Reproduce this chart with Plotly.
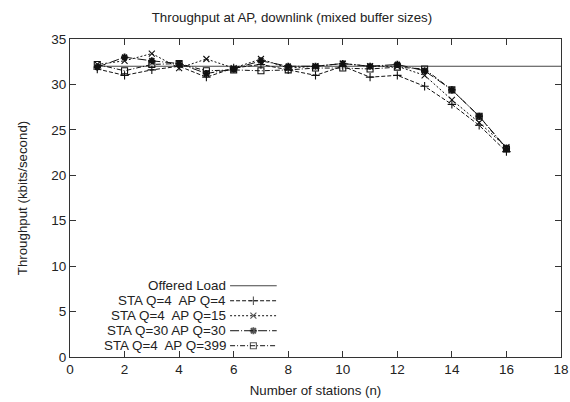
import plotly.graph_objects as go

stations = list(range(1, 17))
offered_x = [1, 18]
offered_y = [32, 32]
q4_ap4 = [31.7, 31.0, 31.6, 32.0, 30.8, 31.8, 32.2, 31.6, 31.0, 32.0, 30.8, 31.0, 29.8, 27.8, 25.5, 22.6]
q4_ap15 = [32.2, 32.6, 33.4, 31.8, 32.8, 31.8, 32.8, 31.8, 32.0, 32.3, 32.0, 32.0, 31.0, 28.3, 25.8, 23.1]
q30_ap30 = [31.9, 33.0, 32.6, 32.3, 31.2, 31.7, 32.6, 32.0, 32.0, 32.3, 32.0, 32.2, 31.5, 29.4, 26.5, 23.0]
q4_ap399 = [32.2, 31.5, 32.2, 32.3, 31.5, 31.6, 31.5, 31.6, 31.8, 31.8, 31.7, 31.9, 31.7, 29.4, 26.5, 22.9]

legend_names = ["Offered Load", "STA Q=4\u00a0 AP Q=4", "STA Q=4\u00a0 AP Q=15",
                "STA Q=30 AP Q=30", "STA Q=4\u00a0 AP Q=399"]

FONT = "Liberation Sans, Arial, sans-serif"
TXT = "#222222"
styles = [
    dict(color="#444444", dash="solid", symbol=None),
    dict(color="#111111", dash="4px,2px", symbol="cross-thin"),
    dict(color="#111111", dash="2px,2px", symbol="x-thin"),
    dict(color="#111111", dash="9px,2px,1px,2px", symbol="asterisk"),
    dict(color="#111111", dash="5px,2px,1px,2px", symbol="square-open"),
]


def marker_for(st, size):
    mk = dict(symbol=st["symbol"] or "circle", size=size, color=st["color"],
              line=dict(color=st["color"], width=1.1))
    if st["symbol"] == "asterisk":
        mk["line"]["width"] = 1.8
    return mk


fig = go.Figure()

fig.add_trace(go.Scatter(x=offered_x, y=offered_y, mode="lines",
                         line=dict(color=styles[0]["color"], width=1.2),
                         showlegend=False, name=legend_names[0]))

series = [q4_ap4, q4_ap15, q30_ap30, q4_ap399]
for i, ys in enumerate(series):
    st = styles[i + 1]
    fig.add_trace(go.Scatter(x=stations, y=ys, mode="lines+markers",
                             line=dict(color=st["color"], width=1.0, dash=st["dash"]),
                             marker=marker_for(st, 6), showlegend=False,
                             name=legend_names[i + 1]))

# Custom legend (text on left, sample on right, gnuplot style)
row_y = [0.2241, 0.1769, 0.1298, 0.0826, 0.0355]
x_text = 0.319
x0, x1 = 0.326, 0.421
for i, name in enumerate(legend_names):
    st = styles[i]
    fig.add_annotation(x=x_text, y=row_y[i], xref="paper", yref="paper",
                       text=name, showarrow=False, xanchor="right", yanchor="middle",
                       borderpad=0,
                       font=dict(family=FONT, size=13.4, color=TXT))
    mode = "lines" if st["symbol"] is None else "lines+markers"
    fig.add_trace(go.Scatter(x=[x0, (x0 + x1) / 2, x1], y=[row_y[i]] * 3,
                             xaxis="x2", yaxis="y2", mode=mode,
                             line=dict(color=st["color"], width=1.2 if i == 0 else 1.0, dash=st["dash"]),
                             marker=marker_for(st, [0, 6, 0]), showlegend=False, hoverinfo="skip"))

axis_common = dict(showline=True, linecolor="#333333", linewidth=1, mirror="allticks",
                   ticks="inside", ticklen=6, tickcolor="#333333", showgrid=False,
                   zeroline=False, automargin=False,
                   tickfont=dict(family=FONT, size=13.5, color=TXT))

fig.update_layout(
    width=570, height=402,
    margin=dict(l=70, r=9, t=39, b=45),
    paper_bgcolor="white", plot_bgcolor="white",
    showlegend=False,
    title=dict(text="Throughput at AP, downlink (mixed buffer sizes)",
               x=0.452, xref="paper", xanchor="center", y=0.958, yanchor="middle",
               font=dict(family=FONT, size=13.3, color=TXT)),
    xaxis=dict(range=[0, 18], tickvals=list(range(0, 19, 2)),
               ticklabeloverflow="allow",
               title=dict(text="Number of stations (n)", standoff=9,
                          font=dict(family=FONT, size=13.3, color=TXT)),
               **axis_common),
    yaxis=dict(range=[0, 35], tickvals=list(range(0, 36, 5)),
               title=dict(text="Throughput (kbits/second)", standoff=20,
                          font=dict(family=FONT, size=13.3, color=TXT)),
               **axis_common),
    xaxis2=dict(range=[0, 1], overlaying="x", visible=False, fixedrange=True),
    yaxis2=dict(range=[0, 1], overlaying="y", visible=False, fixedrange=True),
)

fig.write_html("out.html", config={"displayModeBar": False},
               post_script="document.body.style.margin='0';document.body.style.overflow='hidden';")
